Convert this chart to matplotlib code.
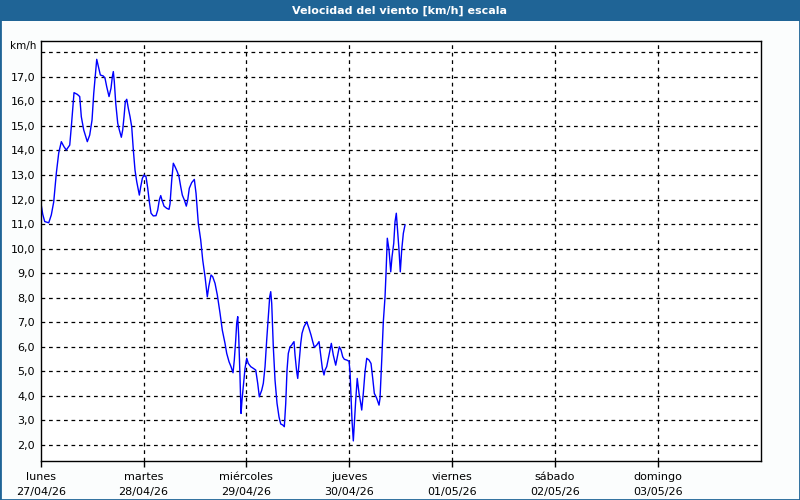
import matplotlib
matplotlib.use("Agg")
import matplotlib.pyplot as plt
from matplotlib.patches import Rectangle

""" Velocidad del viento - semana 27/04/26 """

titulo = "Velocidad del viento [km/h] escala"
dias = ["lunes", "martes", "miércoles", "jueves", "viernes", "sábado", "domingo"]
fechas = ["27/04/26", "28/04/26", "29/04/26", "30/04/26", "01/05/26", "02/05/26", "03/05/26"]

# horas desde el lunes 00:00
horas = [0.0, 0.47, 0.93, 1.87, 2.47, 3.03, 3.64, 4.2, 4.81, 5.44, 5.97, 6.77, 7.14, 7.77,
         8.54, 9.1, 9.47, 10.03, 10.87, 11.43, 11.97, 12.37, 12.74, 13.07, 13.37, 13.91,
         14.6, 15.0, 15.4, 15.94, 16.4, 16.71, 16.94, 17.17, 17.5, 17.97, 18.34, 18.81,
         19.13, 19.44, 19.74, 20.07, 20.44, 20.84, 21.23, 21.61, 22.0, 22.4, 22.77, 23.01,
         23.33, 23.71, 24.1, 24.57, 24.97, 25.34, 25.74, 26.27, 26.9, 27.3, 27.67, 28.0,
         28.3, 28.77, 29.4, 29.94, 30.17, 30.57, 30.94, 31.34, 31.87, 32.27, 32.67, 33.04,
         33.51, 33.97, 34.3, 34.67, 35.23, 35.84, 36.24, 36.77, 37.33, 37.8, 38.34, 38.87,
         39.2, 39.74, 40.13, 40.67, 41.21, 41.84, 42.37, 43.0, 43.4, 43.94, 44.4, 44.87,
         45.17, 45.5, 45.73, 45.97, 46.2, 46.5, 46.74, 46.97, 47.27, 47.67, 48.07, 48.44,
         49.0, 49.61, 50.17, 50.63, 51.01, 51.57, 51.94, 52.34, 52.73, 53.11, 53.43, 53.67,
         53.9, 54.27, 54.67, 55.14, 55.6, 56.0, 56.47, 56.84, 57.17, 57.47, 57.77, 58.17,
         58.57, 58.8, 59.1, 59.34, 59.73, 59.97, 60.27, 60.67, 60.97, 61.44, 62.07, 62.6,
         63.07, 63.47, 63.84, 64.4, 64.94, 65.33, 65.71, 66.1, 66.34, 66.73, 67.11, 67.5,
         67.81, 68.27, 68.83, 69.3, 69.67, 70.07, 70.47, 70.84, 71.4, 71.94, 72.17, 72.4,
         72.63, 72.94, 73.2, 73.5, 73.85, 74.27, 74.67, 74.9, 75.27, 75.67, 76.07, 76.6,
         77.07, 77.47, 77.84, 78.4, 78.94, 79.17, 79.57, 79.94, 80.34, 80.57, 80.87, 81.27,
         81.67, 81.97, 82.37, 82.67, 82.97, 83.2, 83.6, 83.9, 84.23, 84.61, 85.0]

viento = [11.9, 11.4, 11.1, 11.05, 11.37, 11.9, 13.07, 13.9, 14.36, 14.15, 14.02, 14.22, 14.97, 16.36,
          16.29, 16.2, 15.38, 14.84, 14.36, 14.63, 15.24, 16.33, 17.08, 17.72, 17.49, 17.08,
          17.04, 16.95, 16.6, 16.2, 16.54, 17.01, 17.22, 16.81, 15.93, 15.11, 14.84, 14.54,
          14.84, 15.38, 15.99, 16.09, 15.72, 15.38, 14.97, 14.02, 13.2, 12.73, 12.39, 12.18,
          12.52, 12.86, 13.0, 12.93, 12.46, 11.91, 11.44, 11.33, 11.34, 11.57, 11.98, 12.16,
          11.98, 11.73, 11.64, 11.6, 11.82, 12.8, 13.48, 13.34, 13.13, 12.93, 12.52, 12.18,
          11.98, 11.73, 11.98, 12.46, 12.69, 12.82, 12.25, 11.03, 10.35, 9.53, 8.85, 8.03,
          8.44, 8.92, 8.85, 8.58, 8.1, 7.36, 6.67, 6.13, 5.72, 5.38, 5.18, 4.93,
          5.45, 6.27, 6.95, 7.22, 6.4, 4.77, 3.27, 3.82, 4.36, 5.11, 5.52, 5.31,
          5.18, 5.11, 5.04, 4.5, 3.95, 4.22, 4.5, 5.18, 6.27, 7.22, 8.03, 8.24,
          7.76, 5.99, 4.63, 3.68, 3.13, 2.84, 2.8, 2.73, 3.68, 5.04, 5.72, 5.99,
          6.06, 6.13, 6.2, 5.65, 4.97, 4.7, 5.31, 6.13, 6.54, 6.81, 7.01, 6.74,
          6.47, 6.2, 5.97, 6.06, 6.2, 5.65, 5.11, 4.84, 5.04, 5.18, 5.52, 5.86,
          6.13, 5.65, 5.24, 5.65, 5.99, 5.86, 5.58, 5.48, 5.45, 5.4, 4.97, 4.0,
          3.0, 2.15, 2.9, 3.82, 4.7, 4.09, 3.68, 3.41, 4.09, 4.97, 5.52, 5.45,
          5.31, 4.7, 4.09, 3.89, 3.61, 3.89, 5.45, 7.01, 8.03, 8.99, 10.42, 9.94,
          9.05, 9.66, 10.21, 11.09, 11.44, 10.89, 9.94, 9.05, 9.94, 10.62, 10.96]

yticks = list(range(2, 19))

azul = "#1f6496"

fig = plt.figure(figsize=(8, 5), dpi=100)
fig.patch.set_facecolor("#fbfdfd")

# barra del titulo
fig.patches.append(Rectangle((0, 0.958), 1, 0.042, transform=fig.transFigure,
                             facecolor=azul, edgecolor="none", zorder=0))
fig.patches.append(Rectangle((0, 0), 1, 1, transform=fig.transFigure,
                             facecolor="none", edgecolor=azul, linewidth=2, zorder=5))
fig.text(0.5, 0.979, titulo, color="white", fontsize=8, fontweight="bold",
         ha="center", va="center")

ax = fig.add_axes([0.0509, 0.078, 0.9, 0.8406])
ax.set_facecolor("white")
ax.plot(horas, viento, color="#0000ff", linewidth=1.0)

ax.set_xlim(0, 168)
ax.set_ylim(1.33, 18.48)

ax.set_yticks(yticks)
ax.set_yticklabels([("%.1f" % v).replace(".", ",") if v < 18 else "" for v in yticks])
ax.tick_params(axis="y", length=0, labelsize=8, pad=4)

xt = [24 * i for i in range(len(dias))]
ax.set_xticks(xt)
ax.set_xticklabels([d + "\n" + f for d, f in zip(dias, fechas)], linespacing=1.6)
ax.tick_params(axis="x", length=4, width=1, direction="out", labelsize=8, pad=4)

for v in yticks:
    ax.axhline(v, color="black", linestyle=(0, (3, 3)), linewidth=0.9, zorder=1)
for h in xt[1:]:
    ax.axvline(h, color="black", linestyle=(0, (3, 3)), linewidth=0.9, zorder=1)

for s in ax.spines.values():
    s.set_color("black")
    s.set_linewidth(1)

fig.text(0.046, 0.909, "km/h", fontsize=7.5, ha="right", va="center")

plt.savefig("out.png", dpi=100, facecolor=fig.get_facecolor())
